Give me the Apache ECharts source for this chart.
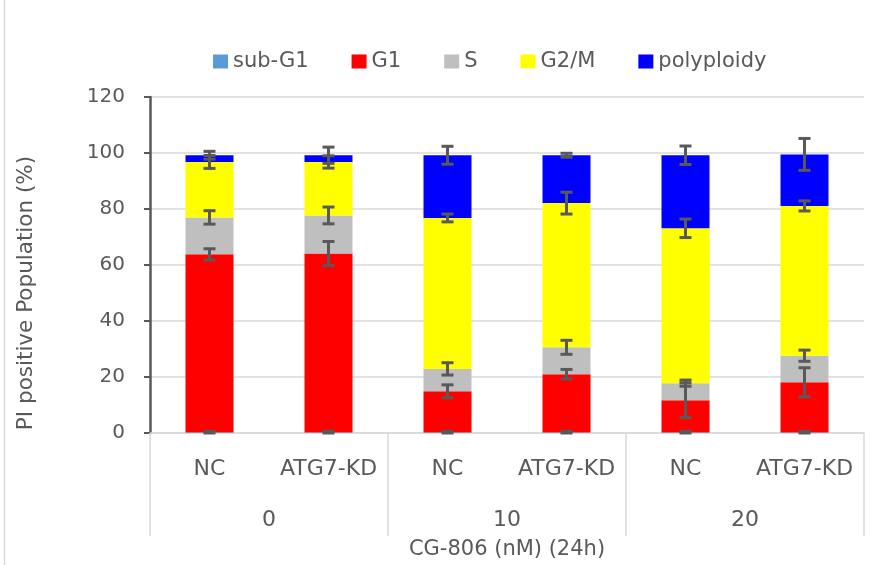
<!DOCTYPE html>
<html>
<head>
<meta charset="utf-8">
<title>Cell cycle distribution</title>
<script src="https://cdn.jsdelivr.net/npm/echarts@6/dist/echarts.min.js"></script>
<style>
  html, body { margin: 0; padding: 0; background: #fff; }
  #chart { width: 882px; height: 565px; }
</style>
</head>
<body>
<div id="chart"></div>
<script>
// Bar labels (inner level) and CG-806 dose groups (outer level)
const categories = ['NC', 'ATG7-KD', 'NC', 'ATG7-KD', 'NC', 'ATG7-KD'];
const doseGroups = ['0', '10', '20'];
const yTicks = [0, 20, 40, 60, 80, 100, 120];

// Mean percentages per phase
const subG1      = [0.3, 0.3, 0.3, 0.3, 0.3, 0.3];
const g1         = [63.5, 63.8, 14.6, 20.7, 11.4, 17.8];
const sPhase     = [13.2, 13.6, 8.0, 9.6, 6.1, 9.5];
const g2m        = [19.8, 19.1, 53.9, 51.5, 55.3, 53.5];
const polyploidy = [2.4, 2.4, 22.4, 17.1, 26.1, 18.4];

// Error (±) per phase
const subG1Err      = [0.3, 0.3, 0.3, 0.3, 0.3, 0.3];
const g1Err         = [2.0, 4.3, 2.3, 1.7, 6.2, 5.2];
const sPhaseErr     = [2.4, 3.0, 2.2, 2.5, 1.1, 2.0];
const g2mErr        = [2.3, 2.2, 1.4, 3.9, 3.3, 1.8];
const polyploidyErr = [1.4, 2.9, 3.2, 0.7, 3.3, 5.7];

const phases = [
  { name: 'sub-G1',     values: subG1,      err: subG1Err,      color: '#5b9bd5' },
  { name: 'G1',         values: g1,         err: g1Err,         color: '#ff0000' },
  { name: 'S',          values: sPhase,     err: sPhaseErr,     color: '#bfbfbf' },
  { name: 'G2/M',       values: g2m,        err: g2mErr,        color: '#ffff00' },
  { name: 'polyploidy', values: polyploidy, err: polyploidyErr, color: '#0000ff' }
];

const FONT = 'DejaVu Sans';
const TEXT = '#595959';
const GRID_LINE = '#d9d9d9';

// Error bar: vertical stem with caps, at the top of each stacked segment
function renderErrorBar(params, api) {
  const x = api.value(0);
  const lo = api.coord([x, api.value(1)]);
  const hi = api.coord([x, api.value(2)]);
  const half = 6;
  const style = { stroke: '#595959', lineWidth: 3 };
  return {
    type: 'group',
    children: [
      { type: 'line', shape: { x1: lo[0], y1: lo[1], x2: hi[0], y2: hi[1] }, style: style },
      { type: 'line', shape: { x1: lo[0] - half, y1: lo[1], x2: lo[0] + half, y2: lo[1] }, style: style },
      { type: 'line', shape: { x1: hi[0] - half, y1: hi[1], x2: hi[0] + half, y2: hi[1] }, style: style }
    ]
  };
}

const barSeries = phases.map(p => ({
  name: p.name,
  type: 'bar',
  stack: 'total',
  xAxisIndex: 0,
  yAxisIndex: 0,
  barWidth: 48,
  itemStyle: { color: p.color },
  emphasis: { disabled: true },
  data: p.values
}));

// cumulative tops for error bar placement
const running = categories.map(() => 0);
const errorSeries = phases.map(p => {
  const data = p.values.map((v, i) => {
    running[i] += v;
    return [i, running[i] - p.err[i], running[i] + p.err[i]];
  });
  return {
    type: 'custom',
    xAxisIndex: 0,
    yAxisIndex: 0,
    z: 10,
    silent: true,
    renderItem: renderErrorBar,
    data: data
  };
});

const gridRect = { left: 150, right: 18, top: 97, bottom: 132 };

const option = {
  animation: false,
  textStyle: { fontFamily: FONT },
  legend: {
    data: phases.map(p => ({ name: p.name, icon: 'rect' })),
    left: 208,
    top: 46,
    itemWidth: 15,
    itemHeight: 14,
    itemGap: 43,
    textStyle: { fontFamily: FONT, fontSize: 21, color: TEXT }
  },
  grid: [
    Object.assign({}, gridRect),
    Object.assign({}, gridRect)
  ],
  xAxis: [
    {
      type: 'category',
      gridIndex: 0,
      data: categories,
      axisLine: { show: true, lineStyle: { color: GRID_LINE, width: 1.5 } },
      axisTick: { show: false },
      axisLabel: { interval: 0, margin: 23, fontFamily: FONT, fontSize: 22, lineHeight: 26, color: TEXT }
    },
    {
      type: 'category',
      gridIndex: 1,
      position: 'bottom',
      data: doseGroups,
      axisLine: { show: false },
      axisTick: { show: true, interval: 0, length: 103, lineStyle: { color: GRID_LINE, width: 1.5 } },
      axisLabel: { interval: 0, margin: 74, fontFamily: FONT, fontSize: 22, lineHeight: 26, color: TEXT },
      name: 'CG-806 (nM) (24h)',
      nameLocation: 'middle',
      nameGap: 106,
      nameTextStyle: { fontFamily: FONT, fontSize: 21, color: TEXT }
    }
  ],
  yAxis: [
    {
      type: 'value',
      gridIndex: 0,
      min: yTicks[0],
      max: yTicks[yTicks.length - 1],
      interval: yTicks[1] - yTicks[0],
      axisLine: { show: true, lineStyle: { color: '#595959', width: 2.5 } },
      axisTick: { show: true, length: 6, lineStyle: { color: '#595959', width: 2 } },
      splitLine: { lineStyle: { color: GRID_LINE, width: 1.5 } },
      axisLabel: { margin: 25, fontFamily: FONT, fontSize: 20, color: TEXT }
    },
    {
      type: 'value',
      gridIndex: 1,
      show: false,
      min: 0,
      max: 1
    }
  ],
  graphic: [
    {
      type: 'line',
      shape: { x1: 4.5, y1: 0, x2: 4.5, y2: 565 },
      style: { stroke: GRID_LINE, lineWidth: 1.5 }
    },
    {
      type: 'text',
      x: 26,
      y: 293,
      rotation: Math.PI / 2,
      style: {
        text: 'PI positive Population (%)',
        fontFamily: FONT,
        fontSize: 21.5,
        fill: TEXT,
        align: 'center',
        verticalAlign: 'middle'
      }
    }
  ],
  series: barSeries.concat(errorSeries)
};

const chart = echarts.init(document.getElementById('chart'), null, { renderer: 'canvas' });
chart.setOption(option);
</script>
</body>
</html>
